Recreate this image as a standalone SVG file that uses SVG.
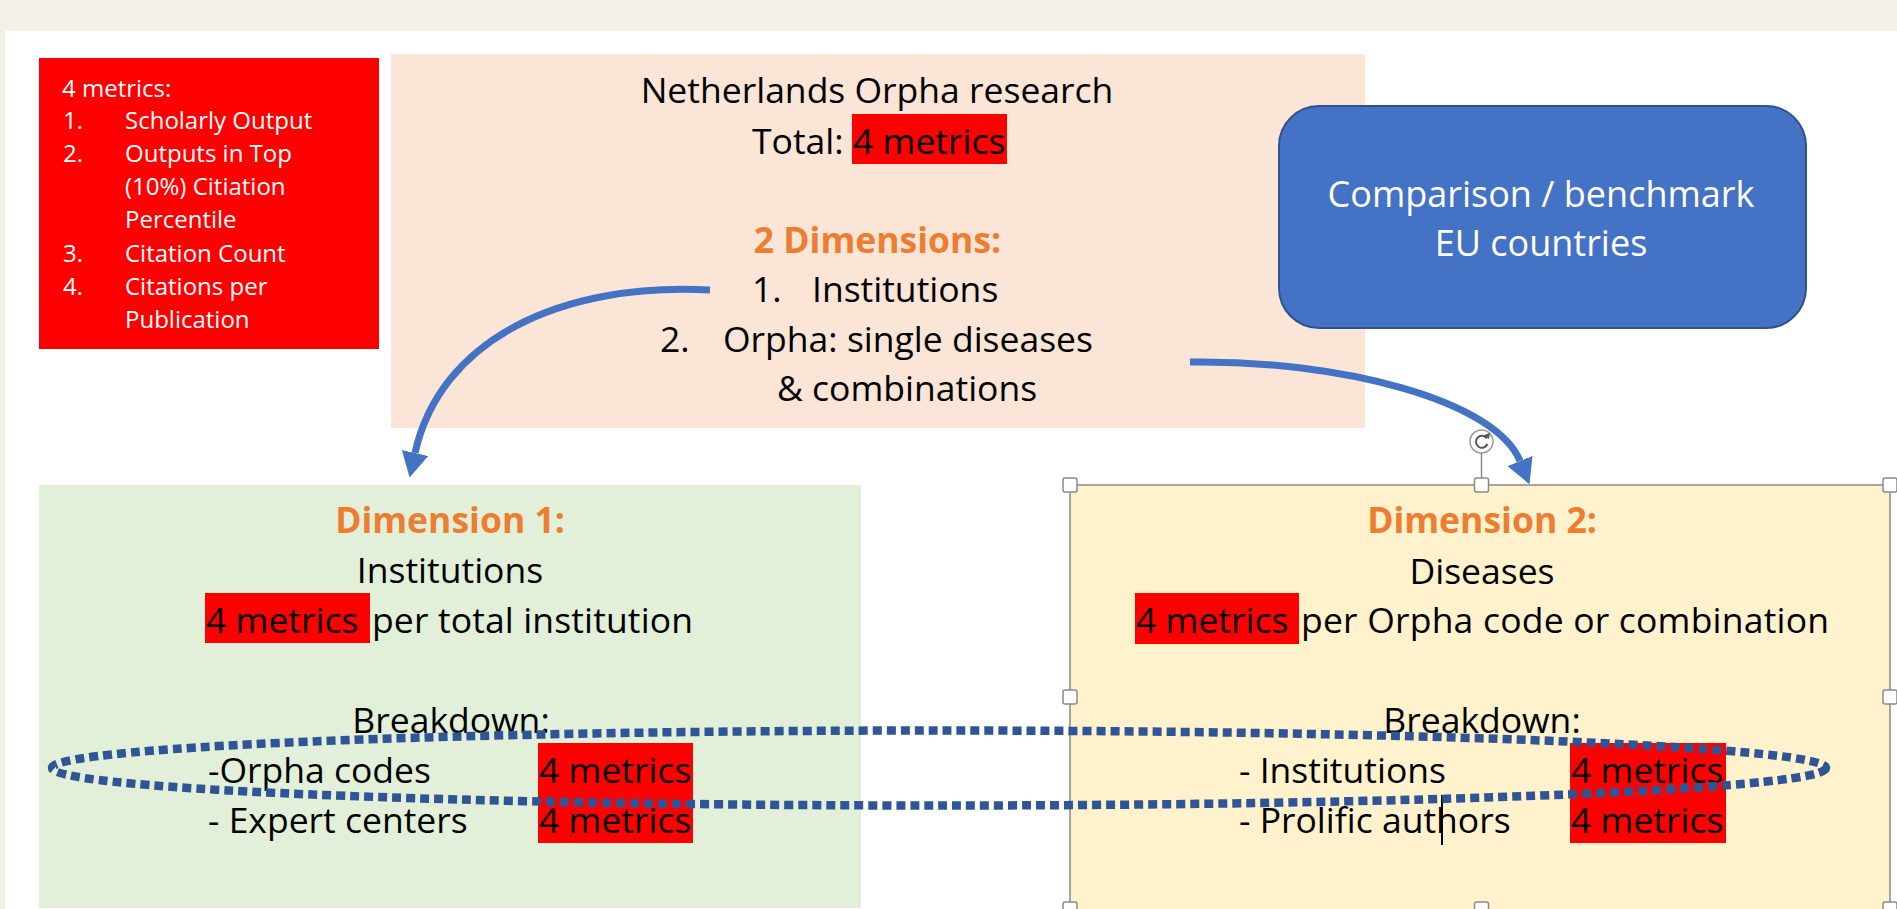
<svg xmlns="http://www.w3.org/2000/svg" width="1897" height="909" viewBox="0 0 1897 909">
<defs>
<style>
.t{font-family:"Open Sans","Liberation Sans",sans-serif;font-size:35.5px;fill:#000}
.b{font-weight:bold;fill:#ed7d31}
.m{text-anchor:middle}
.w{font-family:"Open Sans","Liberation Sans",sans-serif;font-size:24px;fill:#fff}
.bl{font-family:"Open Sans","Liberation Sans",sans-serif;font-size:36px;fill:#fff;text-anchor:middle}
.hl{fill:#ff0000}
.arrow{fill:none;stroke:#4472c4;stroke-width:7;marker-end:url(#ah)}
.dots{fill:none;stroke:#2f5597;stroke-width:8.5;stroke-dasharray:9 5}
.hd{fill:#fff;stroke:#8a8a8a;stroke-width:1.5}
</style>
<marker id="ah" markerUnits="userSpaceOnUse" viewBox="0 0 25 27" markerWidth="25" markerHeight="27" refX="0" refY="13.5" orient="auto">
<path d="M0,0 L25,13.5 L0,27 Z" fill="#4472c4"/>
</marker>
</defs>
<rect x="0" y="0" width="1897" height="909" fill="#f3f0e8"/>
<rect x="5" y="31" width="1892" height="878" fill="#ffffff"/>

<g id="metrics-legend">
<rect x="39" y="58" width="340" height="291" fill="#ff0000"/>
<text class="w" x="62" y="97">4 metrics:</text>
<text class="w" x="63" y="129">1.</text><text class="w" x="125" y="129">Scholarly Output</text>
<text class="w" x="63" y="162">2.</text><text class="w" x="125" y="162">Outputs in Top</text>
<text class="w" x="125" y="195">(10%) Citiation</text>
<text class="w" x="125" y="228">Percentile</text>
<text class="w" x="63" y="262">3.</text><text class="w" x="125" y="262">Citation Count</text>
<text class="w" x="63" y="295">4.</text><text class="w" x="125" y="295">Citations per</text>
<text class="w" x="125" y="328">Publication</text>
</g>

<g id="netherlands-research">
<rect x="391" y="54" width="974" height="374" fill="#fbe5d6"/>
<rect class="hl" x="852" y="114" width="155" height="50"/>
<text class="t m" x="877" y="103">Netherlands Orpha research</text>
<text class="t" y="154"><tspan x="752">Total:</tspan><tspan x="853">4 metrics</tspan></text>
<text class="t b m" x="877.5" y="253">2 Dimensions:</text>
<text class="t" y="302"><tspan x="752">1.</tspan><tspan x="812">Institutions</tspan></text>
<text class="t" y="352"><tspan x="660">2.</tspan><tspan x="723">Orpha: single diseases</tspan></text>
<text class="t" x="777" y="401">&amp; combinations</text>
</g>

<g id="benchmark">
<rect x="1279" y="106" width="527" height="222" rx="40" ry="40" fill="#4472c4" stroke="#2f528f" stroke-width="2"/>
<text class="bl" x="1541" y="207">Comparison / benchmark</text>
<text class="bl" x="1541" y="256">EU countries</text>
</g>

<g id="dimension1">
<rect x="39" y="485" width="822" height="423" fill="#e2f0d9"/>
<rect class="hl" x="205" y="593" width="165" height="50"/>
<rect class="hl" x="538" y="743" width="155" height="100"/>
<text class="t b m" x="450" y="533">Dimension 1:</text>
<text class="t m" x="450" y="583">Institutions</text>
<text class="t" y="633"><tspan x="206">4 metrics</tspan><tspan x="372" textLength="321">per total institution</tspan></text>
<text class="t m" x="451" y="733">Breakdown:</text>
<text class="t" y="783"><tspan x="208">-Orpha codes</tspan><tspan x="539">4 metrics</tspan></text>
<text class="t" y="833"><tspan x="208">- Expert centers</tspan><tspan x="539">4 metrics</tspan></text>
</g>

<g id="dimension2">
<rect x="1070" y="485" width="820" height="430" fill="#fff2cc" stroke="#8a8a8a" stroke-width="1.5"/>
<rect class="hl" x="1135" y="593" width="164" height="51"/>
<rect class="hl" x="1570" y="743" width="156" height="100"/>
<text class="t b m" x="1482" y="533">Dimension 2:</text>
<text class="t m" x="1482" y="584">Diseases</text>
<text class="t" y="633"><tspan x="1136">4 metrics</tspan><tspan x="1301" textLength="528">per Orpha code or combination</tspan></text>
<text class="t m" x="1482" y="733">Breakdown:</text>
<text class="t" y="783"><tspan x="1239">- Institutions</tspan><tspan x="1571">4 metrics</tspan></text>
<text class="t" y="833"><tspan x="1239">- Prolific authors</tspan><tspan x="1571">4 metrics</tspan></text>
<line x1="1442" y1="795" x2="1442" y2="845" stroke="#000" stroke-width="2"/>
</g>

<g id="connectors">
<path class="arrow" d="M710,290 C560,282 440,340 415,453"/>
<path class="arrow" d="M1190,362 C1340,360 1495,400 1520,461"/>
<ellipse class="dots" cx="939" cy="768" rx="887" ry="37.5"/>
</g>

<g id="selection-handles">
<line x1="1481.5" y1="453" x2="1481.5" y2="478" stroke="#8a8a8a" stroke-width="1.5"/>
<circle cx="1481.5" cy="441.5" r="11.5" fill="#fff" stroke="#9a9a9a" stroke-width="1.5"/>
<path d="M1487,438.5 A6,6 0 1 0 1487.5,444" fill="none" stroke="#555" stroke-width="2"/>
<path d="M1484,435 L1489,439 L1490,433 Z" fill="#555"/>
<rect class="hd" x="1063" y="478" width="14" height="14" rx="2"/>
<rect class="hd" x="1474.5" y="478" width="14" height="14" rx="2"/>
<rect class="hd" x="1883" y="478" width="14" height="14" rx="2"/>
<rect class="hd" x="1063" y="690" width="14" height="14" rx="2"/>
<rect class="hd" x="1883" y="690" width="14" height="14" rx="2"/>
<rect class="hd" x="1063" y="902" width="14" height="14" rx="2"/>
<rect class="hd" x="1474.5" y="902" width="14" height="14" rx="2"/>
<rect class="hd" x="1883" y="902" width="14" height="14" rx="2"/>
</g>
</svg>
